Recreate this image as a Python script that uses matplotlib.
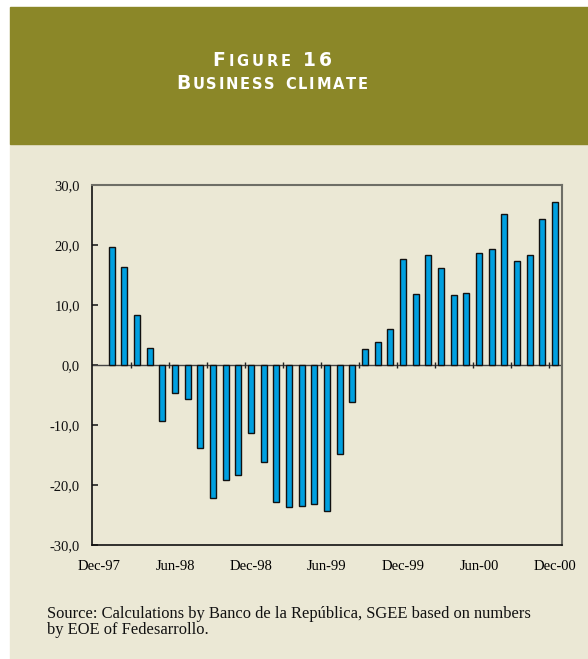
import numpy as np
import matplotlib
import matplotlib.pyplot as plt
from matplotlib.patches import Rectangle
from matplotlib.transforms import IdentityTransform

# monthly readings, Jan-98 .. Dec-00
months = [
    "Jan-98", "Feb-98", "Mar-98", "Apr-98", "May-98", "Jun-98",
    "Jul-98", "Aug-98", "Sep-98", "Oct-98", "Nov-98", "Dec-98",
    "Jan-99", "Feb-99", "Mar-99", "Apr-99", "May-99", "Jun-99",
    "Jul-99", "Aug-99", "Sep-99", "Oct-99", "Nov-99", "Dec-99",
    "Jan-00", "Feb-00", "Mar-00", "Apr-00", "May-00", "Jun-00",
    "Jul-00", "Aug-00", "Sep-00", "Oct-00", "Nov-00", "Dec-00",
]
climate = [
    19.6, 16.3, 8.4, 2.8, -9.3, -4.7,
    -5.7, -13.9, -22.2, -19.2, -18.3, -11.4,
    -16.1, -22.9, -23.6, -23.5, -23.1, -24.4,
    -14.9, -6.1, 2.6, 3.9, 6.0, 17.6,
    11.9, 18.4, 16.1, 11.6, 12.0, 18.7,
    19.3, 25.2, 17.3, 18.4, 24.4, 27.1,
]
xtick_labels = ["Dec-97", "Jun-98", "Dec-98", "Jun-99", "Dec-99", "Jun-00", "Dec-00"]
ytick_values = [-30, -20, -10, 0, 10, 20, 30]

OLIVE = "#8b8728"
BEIGE = "#ebe8d5"
BAR_BLUE = "#00a0e0"
SERIF = ["Liberation Serif", "DejaVu Serif"]


def small_caps(fig, text, x_center, y_base, big, small, width_px, color="white"):
    # fake small caps, spread out to a target width (pixels)
    renderer = fig.canvas.get_renderer()
    parts = []
    for ch in text:
        if ch == " ":
            parts.append((" ", big, big * 0.35 * fig.dpi / 72))
            continue
        size = small if ch.islower() else big
        t = fig.text(0, 0, ch.upper(), fontsize=size, weight="bold",
                     family="DejaVu Sans")
        w = t.get_window_extent(renderer).width
        t.remove()
        parts.append((ch.upper(), size, w))
    natural = sum(p[2] for p in parts)
    track = (width_px - natural) / (len(parts) - 1)
    x = x_center - width_px / 2
    for ch, size, w in parts:
        if ch != " ":
            fig.text(x, y_base, ch, fontsize=size, weight="bold",
                     family="DejaVu Sans", color=color, va="baseline",
                     transform=IdentityTransform())
        x += w + track


fig = plt.figure(figsize=(5.88, 6.59), dpi=100, facecolor="white")
H = 659.0
W = 588.0

fig.patches.append(Rectangle((10 / W, 0), 1 - 10 / W, 1 - 144 / H,
                             transform=fig.transFigure, color=BEIGE, zorder=-2))
fig.patches.append(Rectangle((10 / W, 1 - 144 / H), 1 - 10 / W, 137 / H,
                             transform=fig.transFigure, color=OLIVE, zorder=-2))

small_caps(fig, "Figure 16", 272, H - 65.7, 13.5, 10.5, 119)
small_caps(fig, "Business climate", 272, H - 88.7, 13.5, 10.5, 192)

ax = fig.add_axes([92.3 / W, (H - 545) / H, (561.7 - 92.3) / W, 360 / H])
ax.set_facecolor(BEIGE)

x = np.arange(1, len(climate) + 1)
ax.bar(x, climate, width=0.48, color=BAR_BLUE, edgecolor="#111111",
       linewidth=1.0, zorder=3)

ax.axhline(0, color="#444444", linewidth=1.0, zorder=2)
# short marks on the zero line every quarter
ax.vlines(np.arange(2.5, len(climate), 3), -0.55, 0.55,
          color="#222222", linewidth=1.0, zorder=4)

ax.set_xlim(-0.53, 36.53)
ax.set_ylim(-30, 30)

ax.set_xticks(np.arange(0, 37, 6))
ax.set_xticklabels(xtick_labels, family=SERIF, fontsize=10.5)
ax.tick_params(axis="x", length=0, pad=11)

ax.set_yticks(ytick_values)
ax.set_yticklabels([f"{v:.1f}".replace(".", ",") for v in ytick_values],
                   family=SERIF, fontsize=10.5)
ax.tick_params(axis="y", direction="in", length=4, width=1.2, pad=9,
               colors="#222222")
ax.tick_params(axis="y", labelcolor="#111111")

for side in ["top", "right"]:
    ax.spines[side].set_color("#6e6e66")
    ax.spines[side].set_linewidth(1.5)
for side in ["left", "bottom"]:
    ax.spines[side].set_color("#111111")
    ax.spines[side].set_linewidth(1.2)

fig.text(47 / W, 1 - 617.5 / H,
         "Source: Calculations by Banco de la República, SGEE based on numbers",
         family=SERIF, fontsize=11.9, color="#111111", va="baseline")
fig.text(47 / W, 1 - 634.5 / H, "by EOE of Fedesarrollo.",
         family=SERIF, fontsize=11.9, color="#111111", va="baseline")

fig.savefig("out.png", dpi=100, facecolor=fig.get_facecolor())
